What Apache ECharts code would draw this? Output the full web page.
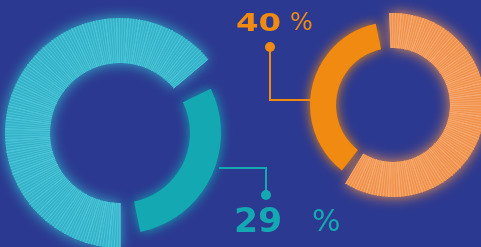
<!DOCTYPE html>
<html><head><meta charset="utf-8">
<script src="https://cdn.jsdelivr.net/npm/echarts@6/dist/echarts.min.js"></script>
<style>html,body{margin:0;padding:0;background:#2c3990;}#c{width:481px;height:247px;}</style>
</head><body><div id="c"></div>
<script>
// data
const names = ['left', 'right'];
const values = [29, 40];
const unit = '%';

// style / layout
const colors = { solid: ['#14a9b2', '#f08a10'], base: ['#33b2c8', '#f0924c'], stripe: ['#4cc4d8', '#f6a86e'] };
const centers = [[120, 133], [393, 105]];
const Rout = [115, 92], Rin = [70, 57], Rsolid = [101, 83];
const stripeAngles = [[270, 40], [92, -121]];
const solidAngles = [[26, -334], [232, -93]];

const series = [];
for (let i = 0; i < values.length; i++) {
  const w = Rout[i] - Rin[i];
  series.push({
    type: 'gauge', name: names[i] + '-ring', center: centers[i], radius: Rout[i],
    startAngle: stripeAngles[i][0], endAngle: stripeAngles[i][1], min: 0, max: 100,
    splitNumber: i === 0 ? 40 : 30,
    axisLine: { show: true, roundCap: false, lineStyle: { width: w, color: [[1, colors.base[i]]], shadowBlur: 14, shadowColor: colors.base[i] } },
    axisTick: { show: true, splitNumber: 4, distance: -w, length: w, lineStyle: { color: colors.stripe[i], width: 1 } },
    splitLine: { show: true, distance: -w, length: w, lineStyle: { color: colors.stripe[i], width: 1 } },
    axisLabel: { show: false }, pointer: { show: false }, detail: { show: false }, title: { show: false },
    progress: { show: false }, data: [], silent: true, animation: false
  });
  series.push({
    type: 'gauge', name: names[i], center: centers[i], radius: Rsolid[i],
    startAngle: solidAngles[i][0], endAngle: solidAngles[i][1], min: 0, max: 100,
    progress: { show: true, roundCap: false, width: Rsolid[i] - Rin[i], itemStyle: { color: colors.solid[i], shadowBlur: 12, shadowColor: colors.solid[i] } },
    axisLine: { show: false }, axisTick: { show: false }, splitLine: { show: false }, axisLabel: { show: false },
    pointer: { show: false }, detail: { show: false }, title: { show: false },
    data: [{ value: values[i] }], animation: false
  });
}

const graphic = [
  { type: 'polyline', shape: { points: [[270, 47], [270, 100], [312, 100]] }, style: { stroke: colors.solid[1], lineWidth: 2, fill: null } },
  { type: 'circle', shape: { cx: 270, cy: 47, r: 5 }, style: { fill: colors.solid[1] } },
  { type: 'polyline', shape: { points: [[266, 195], [266, 168], [219, 168]] }, style: { stroke: colors.solid[0], lineWidth: 2, fill: null } },
  { type: 'circle', shape: { cx: 266, cy: 195, r: 5 }, style: { fill: colors.solid[0] } },
  { type: 'text', x: 236, y: 24, scaleX: 1.3, style: { text: String(values[1]), font: 'bold 25px "DejaVu Sans"', fill: colors.solid[1], verticalAlign: 'middle', align: 'left' } },
  { type: 'text', x: 290, y: 24, style: { text: unit, font: '24px "DejaVu Sans"', fill: colors.solid[1], verticalAlign: 'middle', align: 'left' } },
  { type: 'text', x: 234, y: 223, scaleX: 1.05, style: { text: String(values[0]), font: 'bold 33px "DejaVu Sans"', fill: colors.solid[0], verticalAlign: 'middle', align: 'left' } },
  { type: 'text', x: 312, y: 223, style: { text: unit, font: '30px "DejaVu Sans"', fill: colors.solid[0], verticalAlign: 'middle', align: 'left' } }
];

const chart = echarts.init(document.getElementById('c'), null, { renderer: 'canvas' });
chart.setOption({ backgroundColor: '#2c3990', animation: false, series, graphic });
</script></body></html>
